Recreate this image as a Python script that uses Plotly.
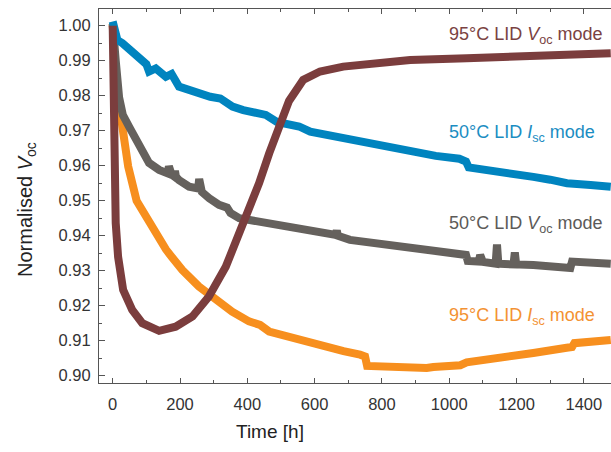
import plotly.graph_objects as go

# Time axis (hours) and normalised Voc readings for each degradation run

# 95 °C LID, Isc mode
t_95_isc = [0, 4, 10, 17, 29, 46, 71, 108, 126, 158, 175, 207, 256, 306, 355, 405,
            438, 465, 487, 537, 586, 636, 686, 735, 750, 756, 834, 854, 933, 953,
            1033, 1052, 1151, 1250, 1349, 1365, 1372, 1480]
v_95_isc = [1.0005, 0.986, 0.981, 0.9788, 0.9693, 0.9598, 0.9500, 0.9437, 0.9407,
            0.9361, 0.9340, 0.9302, 0.9255, 0.9216, 0.9183, 0.9155, 0.9145, 0.9126,
            0.9120, 0.9107, 0.9093, 0.9079, 0.9070, 0.9060, 0.9055, 0.9028, 0.9024,
            0.9025, 0.9022, 0.9025, 0.9030, 0.9038, 0.9050, 0.9065, 0.9080, 0.9082,
            0.9093, 0.9102]

# 50 °C LID, Voc mode
t_50_voc = [0, 3, 9, 19, 30, 49, 78, 108, 138, 160, 164, 167, 170, 175, 182, 185, 188,
            197, 227, 250, 254, 257, 260, 265, 287, 316, 340, 350, 376, 435, 495, 554,
            636, 663, 666, 669, 705, 834, 934, 1050, 1055, 1088, 1092, 1096, 1100, 1138,
            1142, 1146, 1191, 1195, 1199, 1250, 1360, 1365, 1480]
v_50_voc = [1.0005, 0.9950, 0.9900, 0.9795, 0.9745, 0.9711, 0.9654, 0.9608, 0.9588,
            0.9575, 0.9578, 0.9598, 0.9578, 0.9575, 0.9570, 0.9585, 0.9568, 0.9559,
            0.9540, 0.9532, 0.9535, 0.9562, 0.9530, 0.9525, 0.9507, 0.9488, 0.9480,
            0.9465, 0.9450, 0.9440, 0.9427, 0.9416, 0.9402, 0.9402, 0.9415, 0.9400,
            0.9388, 0.9373, 0.9359, 0.9345, 0.9328, 0.9326, 0.9345, 0.9326, 0.9325,
            0.9320, 0.9375, 0.9320, 0.9318, 0.9352, 0.9318, 0.9316, 0.9308, 0.9326,
            0.9320]

# 50 °C LID, Isc mode
t_50_isc = [0, 5, 14, 29, 58, 88, 100, 108, 128, 158, 175, 197, 227, 257, 290, 320,
            356, 388, 420, 455, 488, 520, 554, 587, 636, 686, 736, 786, 835, 885, 960,
            1030, 1050, 1058, 1100, 1150, 1200, 1250, 1300, 1350, 1420, 1480]
v_50_isc = [1.0012, 0.9980, 0.9959, 0.9950, 0.9926, 0.9902, 0.9890, 0.9869, 0.9878,
            0.9854, 0.9862, 0.9826, 0.9816, 0.9802, 0.9797, 0.9792, 0.9769, 0.9759,
            0.9750, 0.9745, 0.9725, 0.9718, 0.9712, 0.9697, 0.9688, 0.9679, 0.9668,
            0.9660, 0.9650, 0.9640, 0.9628, 0.9620, 0.9612, 0.9595, 0.9590, 0.9580,
            0.9575, 0.9568, 0.9560, 0.9550, 0.9545, 0.9540]

# 95 °C LID, Voc mode
t_95_voc = [0, 3, 6, 9, 16, 31, 58, 88, 138, 187, 237, 286, 336, 375, 395, 415, 435,
            465, 494, 524, 566, 616, 685, 755, 804, 884, 1052, 1250, 1480]
v_95_voc = [1.0000, 0.9800, 0.9550, 0.9436, 0.9340, 0.9245, 0.9188, 0.9150, 0.9128,
            0.9140, 0.9169, 0.9226, 0.9311, 0.9407, 0.9445, 0.9502, 0.9550, 0.9635,
            0.9711, 0.9785, 0.9845, 0.9869, 0.9883, 0.9888, 0.9897, 0.9902, 0.9907,
            0.9916, 0.9921]

x_ticks = [0, 200, 400, 600, 800, 1000, 1200, 1400]
y_ticks = [0.90, 0.91, 0.92, 0.93, 0.94, 0.95, 0.96, 0.97, 0.98, 0.99, 1.00]

C_BROWN = "#7b3d3d"
C_BLUE = "#0084bf"
C_GREY = "#65615d"
C_ORANGE = "#f78f1e"

FONT = "Liberation Sans, Arial, Helvetica, sans-serif"

series = [
    (t_95_isc, v_95_isc, C_ORANGE),
    (t_50_voc, v_50_voc, C_GREY),
    (t_50_isc, v_50_isc, C_BLUE),
    (t_95_voc, v_95_voc, C_BROWN),
]

fig = go.Figure()
for t, v, c in series:
    fig.add_trace(go.Scatter(
        x=t, y=v, mode="lines",
        line=dict(color=c, width=8, shape="linear"),
        showlegend=False, hoverinfo="skip",
    ))

labels = [
    ("95°C LID <i>V</i><sub>oc</sub> mode", 0.99734, "#7a4242"),
    ("50°C LID <i>I</i><sub>sc</sub> mode", 0.9692, "#1b8dc2"),
    ("50°C LID <i>V</i><sub>oc</sub> mode", 0.9431, "#5c5a58"),
    ("95°C LID <i>I</i><sub>sc</sub> mode", 0.9169, "#f39233"),
]
for text, y, col in labels:
    fig.add_annotation(
        x=993, y=y, xref="x", yref="y", text=text, showarrow=False,
        xanchor="left", yanchor="middle",
        font=dict(family=FONT, size=18, color=col),
    )

# axis titles
fig.add_annotation(
    x=(27 - 99) / 512, y=(383 - 210) / 374, xref="paper", yref="paper",
    text="Normalised <i>V</i><sub>oc</sub>", textangle=-90, showarrow=False,
    xanchor="center", yanchor="middle",
    font=dict(family=FONT, size=20, color="#222222"),
)
fig.add_annotation(
    x=(270 - 99) / 512, y=-(431 - 383) / 374, xref="paper", yref="paper",
    text="Time [h]", showarrow=False, xanchor="center", yanchor="middle",
    font=dict(family=FONT, size=19, color="#222222"),
)

fig.update_xaxes(
    range=[-40.7, 1480.8], tickvals=x_ticks, ticktext=[str(v) for v in x_ticks],
    ticks="inside", ticklen=5, tickwidth=1, tickcolor="#555555",
    minor=dict(dtick=100, tick0=0, ticks="inside", ticklen=3, tickcolor="#555555"),
    showline=True, linecolor="#555555", linewidth=1, mirror="ticks",
    showgrid=False, zeroline=False,
    tickfont=dict(family=FONT, size=16.5, color="#333333"),
    ticklabelstandoff=6,
)
fig.update_yaxes(
    range=[0.89791, 1.00477], tickvals=y_ticks, ticktext=[f"{v:.2f}" for v in y_ticks],
    ticks="inside", ticklen=6, tickwidth=1, tickcolor="#555555",
    minor=dict(dtick=0.005, tick0=0.9, ticks="inside", ticklen=3, tickcolor="#555555"),
    showline=True, linecolor="#555555", linewidth=1, mirror=False,
    showgrid=False, zeroline=False,
    tickfont=dict(family=FONT, size=16.5, color="#333333"),
    ticklabelstandoff=4,
)

fig.update_layout(
    width=611, height=452,
    margin=dict(l=99, r=0, t=9, b=69, pad=0),
    paper_bgcolor="white", plot_bgcolor="white",
    font=dict(family=FONT),
)

fig.write_html("out.html")
